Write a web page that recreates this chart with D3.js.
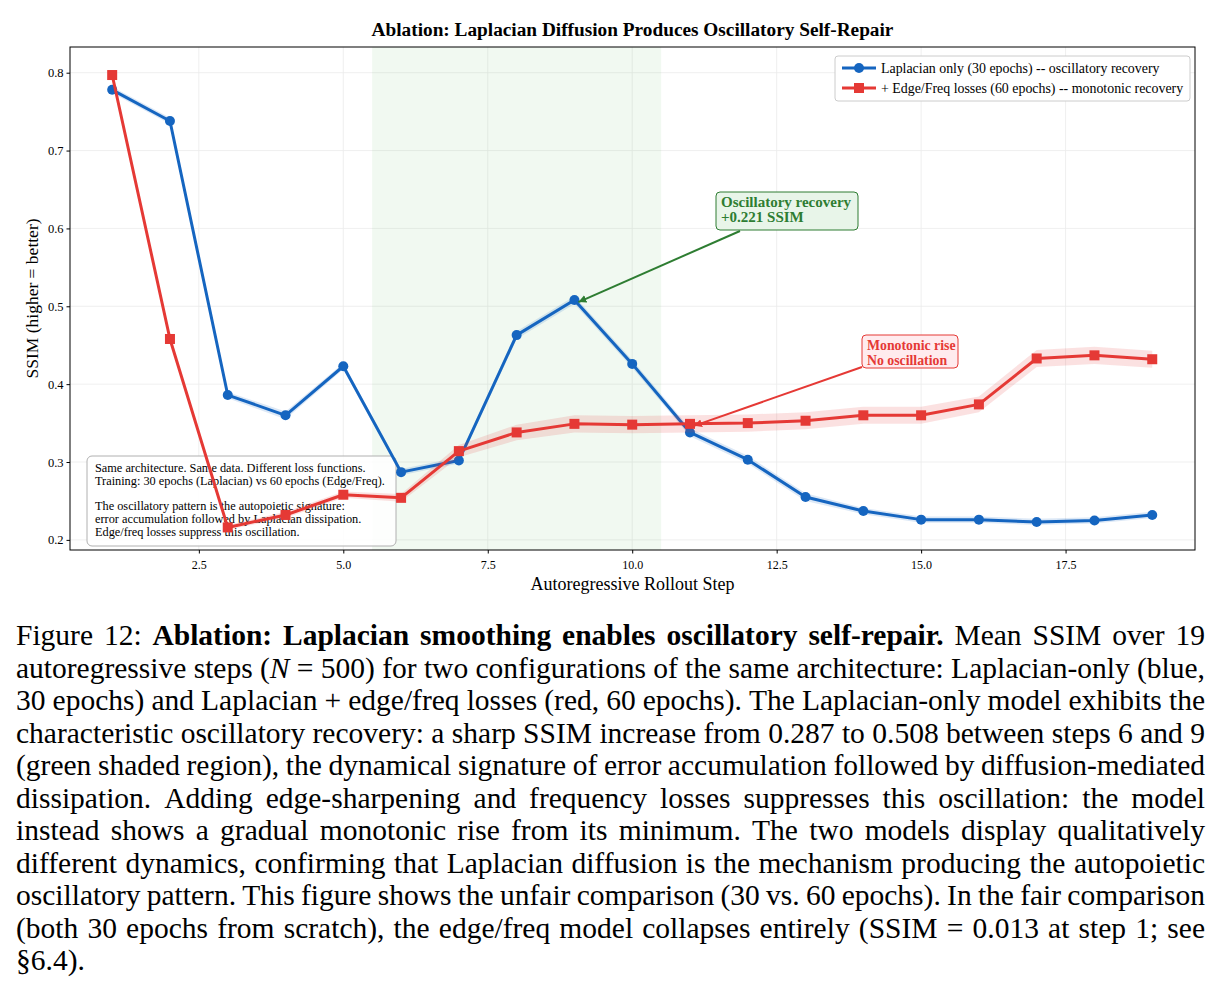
<!DOCTYPE html>
<html><head><meta charset="utf-8">
<script src="https://cdn.jsdelivr.net/npm/d3@7"></script>
<style>body{margin:0;background:#fff}svg{display:block}</style>
</head><body>
<svg id="c" width="1223" height="996"></svg>
<script>
const steps = [1,2,3,4,5,6,7,8,9,10,11,12,13,14,15,16,17,18,19];
const blueVals = [0.778,0.738,0.386,0.360,0.423,0.287,0.302,0.463,0.508,0.426,0.338,0.303,0.255,0.237,0.226,0.226,0.223,0.225,0.232];
const blueStd  = [0.004,0.004,0.004,0.005,0.004,0.004,0.004,0.005,0.005,0.005,0.005,0.005,0.005,0.004,0.004,0.004,0.004,0.004,0.004];
const redVals  = [0.797,0.458,0.216,0.232,0.258,0.254,0.314,0.338,0.349,0.348,0.349,0.350,0.353,0.360,0.360,0.374,0.433,0.437,0.432];
const redStd   = [0.003,0.003,0.003,0.004,0.004,0.005,0.008,0.010,0.011,0.011,0.011,0.011,0.011,0.011,0.011,0.010,0.011,0.011,0.011];
const xTicks = [2.5,5.0,7.5,10.0,12.5,15.0,17.5];
const yTicks = [0.2,0.3,0.4,0.5,0.6,0.7,0.8];
const shadeRange = [5.5,10.5];
const legendLabels = ["Laplacian only (30 epochs) -- oscillatory recovery","+ Edge/Freq losses (60 epochs) -- monotonic recovery"];
const noteLines = ["Same architecture. Same data. Different loss functions.","Training: 30 epochs (Laplacian) vs 60 epochs (Edge/Freq).","","The oscillatory pattern is the autopoietic signature:","error accumulation followed by Laplacian dissipation.","Edge/freq losses suppress this oscillation."];
const captionLines = [
 [["Figure 12: ",0],["Ablation: Laplacian smoothing enables oscillatory self-repair.",1],[" Mean SSIM over 19",0]],
 [["autoregressive steps (",0],["N",2],[" = 500) for two configurations of the same architecture: Laplacian-only (blue,",0]],
 [["30 epochs) and Laplacian + edge/freq losses (red, 60 epochs). The Laplacian-only model exhibits the",0]],
 [["characteristic oscillatory recovery: a sharp SSIM increase from 0.287 to 0.508 between steps 6 and 9",0]],
 [["(green shaded region), the dynamical signature of error accumulation followed by diffusion-mediated",0]],
 [["dissipation. Adding edge-sharpening and frequency losses suppresses this oscillation: the model",0]],
 [["instead shows a gradual monotonic rise from its minimum. The two models display qualitatively",0]],
 [["different dynamics, confirming that Laplacian diffusion is the mechanism producing the autopoietic",0]],
 [["oscillatory pattern. This figure shows the unfair comparison (30 vs. 60 epochs). In the fair comparison",0]],
 [["(both 30 epochs from scratch), the edge/freq model collapses entirely (SSIM = 0.013 at step 1; see",0]],
 [["§6.4).",0]]
];

const svg = d3.select("#c");
const serif = "'Liberation Serif','Times New Roman',serif";
const L=70, R=1195, T=47, B=550;
const x = d3.scaleLinear().domain([0.27,19.74]).range([L,R]);
const y = d3.scaleLinear().domain([0.187,0.833]).range([B,T]);
const blue="#1565c0", red="#e53935", green="#2e7d32";

// title
svg.append("text").attr("x",(L+R)/2).attr("y",36).attr("text-anchor","middle")
  .attr("font-family",serif).attr("font-weight","bold").attr("font-size",19.3).text("Ablation: Laplacian Diffusion Produces Oscillatory Self-Repair");

const g = svg.append("g");
g.append("defs").append("clipPath").attr("id","clip").append("rect").attr("x",L).attr("y",T).attr("width",R-L).attr("height",B-T);
// grid
g.selectAll(".gx").data(xTicks).join("line").attr("x1",d=>x(d)).attr("x2",d=>x(d)).attr("y1",T).attr("y2",B).attr("stroke","#ebebeb").attr("stroke-width",0.8);
g.selectAll(".gy").data(yTicks).join("line").attr("y1",d=>y(d)).attr("y2",d=>y(d)).attr("x1",L).attr("x2",R).attr("stroke","#ebebeb").attr("stroke-width",0.8);
// shade
g.append("rect").attr("x",x(shadeRange[0])).attr("width",x(shadeRange[1])-x(shadeRange[0])).attr("y",T).attr("height",B-T)
  .attr("fill","#4caf50").attr("opacity",0.08);

// note box
const nb = g.append("g");
nb.append("rect").attr("x",87).attr("y",456).attr("width",309).attr("height",90).attr("rx",5)
  .attr("fill","#fff").attr("fill-opacity",0.85).attr("stroke","#b0b0b0").attr("stroke-width",1);
noteLines.forEach((t,i)=>{ if(t) nb.append("text").attr("x",95).attr("y",472+i*12.8).attr("font-family",serif).attr("font-size",12.3).text(t); });

// bands and lines
const plot = g.append("g").attr("clip-path","url(#clip)");
function series(vals,std,color,marker){
  const area = d3.area().x((d,i)=>x(steps[i])).y0((d,i)=>y(vals[i]-std[i])).y1((d,i)=>y(vals[i]+std[i]));
  plot.append("path").datum(vals).attr("d",area).attr("fill",color).attr("opacity",0.15);
  const line = d3.line().x((d,i)=>x(steps[i])).y(d=>y(d));
  plot.append("path").datum(vals).attr("d",line).attr("fill","none").attr("stroke",color).attr("stroke-width",3).attr("stroke-linejoin","round");
  if(marker==="circle"){
    plot.selectAll(null).data(vals).join("circle").attr("cx",(d,i)=>x(steps[i])).attr("cy",d=>y(d)).attr("r",5).attr("fill",color);
  } else {
    plot.selectAll(null).data(vals).join("rect").attr("x",(d,i)=>x(steps[i])-5).attr("y",d=>y(d)-5).attr("width",10).attr("height",10).attr("fill",color);
  }
}
series(blueVals,blueStd,blue,"circle");
series(redVals,redStd,red,"square");

// frame
g.append("rect").attr("x",L).attr("y",T).attr("width",R-L).attr("height",B-T).attr("fill","none").attr("stroke","#000").attr("stroke-width",1);
// axes
const xa = g.append("g").attr("transform",`translate(0,${B})`).call(d3.axisBottom(x).tickValues(xTicks).tickFormat(d3.format(".1f")).tickSize(3.5));
const ya = g.append("g").attr("transform",`translate(${L},0)`).call(d3.axisLeft(y).tickValues(yTicks).tickFormat(d3.format(".1f")).tickSize(3.5));
[xa,ya].forEach(a=>{a.select(".domain").remove(); a.selectAll("text").attr("font-family",serif).attr("fill","#000"); a.selectAll("line").attr("stroke","#000");});
xa.selectAll("text").attr("font-size",12).attr("dy","1.05em");
ya.selectAll("text").attr("font-size",12.5);
svg.append("text").attr("x",(L+R)/2).attr("y",590).attr("text-anchor","middle").attr("font-family",serif).attr("font-size",18).text("Autoregressive Rollout Step");
svg.append("text").attr("transform",`translate(38,${(T+B)/2}) rotate(-90)`).attr("text-anchor","middle").attr("font-family",serif).attr("font-size",17.5).text("SSIM (higher = better)");

// legend
const lg = svg.append("g");
lg.append("rect").attr("x",835).attr("y",56).attr("width",355).attr("height",45).attr("rx",3).attr("fill","#fff").attr("stroke","#ccc");
[[blue,"circle"],[red,"square"]].forEach(([c,m],i)=>{
  const yy = 68+i*20;
  lg.append("line").attr("x1",842).attr("x2",876).attr("y1",yy).attr("y2",yy).attr("stroke",c).attr("stroke-width",3);
  if(m==="circle") lg.append("circle").attr("cx",859).attr("cy",yy).attr("r",5).attr("fill",c);
  else lg.append("rect").attr("x",854).attr("y",yy-5).attr("width",10).attr("height",10).attr("fill",c);
  lg.append("text").attr("x",881).attr("y",yy+4.5).attr("font-family",serif).attr("font-size",13.9).text(legendLabels[i]);
});

// annotations
svg.append("defs").html(`<marker id="ag" viewBox="0 0 10 10" refX="10" refY="5" markerWidth="8" markerHeight="8" markerUnits="userSpaceOnUse" orient="auto"><path d="M0,0 L10,5 L0,10 Z" fill="${green}"/></marker>
<marker id="ar" viewBox="0 0 10 10" refX="10" refY="5" markerWidth="8" markerHeight="8" markerUnits="userSpaceOnUse" orient="auto"><path d="M0,0 L10,5 L0,10 Z" fill="${red}"/></marker>`);
function annot(pt,from,box,lines,col,fill,mk,fs){
  svg.append("line").attr("x1",from[0]).attr("y1",from[1]).attr("x2",x(pt[0])+4).attr("y2",y(pt[1])+2).attr("stroke",col).attr("stroke-width",2).attr("marker-end",`url(#${mk})`);
  svg.append("rect").attr("x",box[0]).attr("y",box[1]).attr("width",box[2]).attr("height",box[3]).attr("rx",4).attr("fill",fill).attr("stroke",col).attr("stroke-width",1);
  lines.forEach((t,i)=>svg.append("text").attr("x",box[0]+5).attr("y",box[1]+15+i*14.5).attr("font-family",serif).attr("font-weight","bold").attr("font-size",fs).attr("fill",col).text(t));
}
annot([9,0.508],[740,231],[716,192,142,38],["Oscillatory recovery","+0.221 SSIM"],green,"#e8f5e9","ag",15);
annot([11,0.349],[862,367],[862,335,96,33],["Monotonic rise","No oscillation"],red,"#ffebee","ar",13.8);

// caption, justified
const FS = 29.5;
const cap = svg.append("g").attr("font-family",serif).attr("font-size",FS);
const cx0=16, cx1=1205;
captionLines.forEach((segs,li)=>{
  const by = 645+li*32.5;
  const words=[];
  segs.forEach(([t,s])=>{
    const parts=t.split(" ");
    parts.forEach((p,pi)=>{
      if(pi>0) words.push(null);
      if(p!=="") words.push({t:p,s});
    });
  });
  const groups=[]; let cur=[];
  words.forEach(w=>{ if(w===null){ if(cur.length){groups.push(cur);cur=[];} } else cur.push(w); });
  if(cur.length) groups.push(cur);
  const nodes=groups.map(gr=>{
    const t=cap.append("text").attr("y",by);
    gr.forEach(w=>{ const ts=t.append("tspan").text(w.t); if(w.s===1) ts.attr("font-weight","bold"); if(w.s===2) ts.attr("font-style","italic"); });
    return t;
  });
  let widths=nodes.map(n=>n.node().getComputedTextLength());
  const last = li===captionLines.length-1;
  const minGap = FS*0.18;
  let total=d3.sum(widths);
  const avail = cx1-cx0;
  if(total + minGap*(nodes.length-1) > avail){
    const k = (avail - minGap*(nodes.length-1))/total;
    nodes.forEach((n,i)=>{ n.attr("textLength",widths[i]*k).attr("lengthAdjust","spacingAndGlyphs"); });
    widths = widths.map(w=>w*k); total=d3.sum(widths);
  }
  const gap = last? FS*0.25 : (avail-total)/(nodes.length-1);
  let xx=cx0;
  nodes.forEach((n,i)=>{ n.attr("x",xx); xx+=widths[i]+gap; });
});
</script>
</body></html>
